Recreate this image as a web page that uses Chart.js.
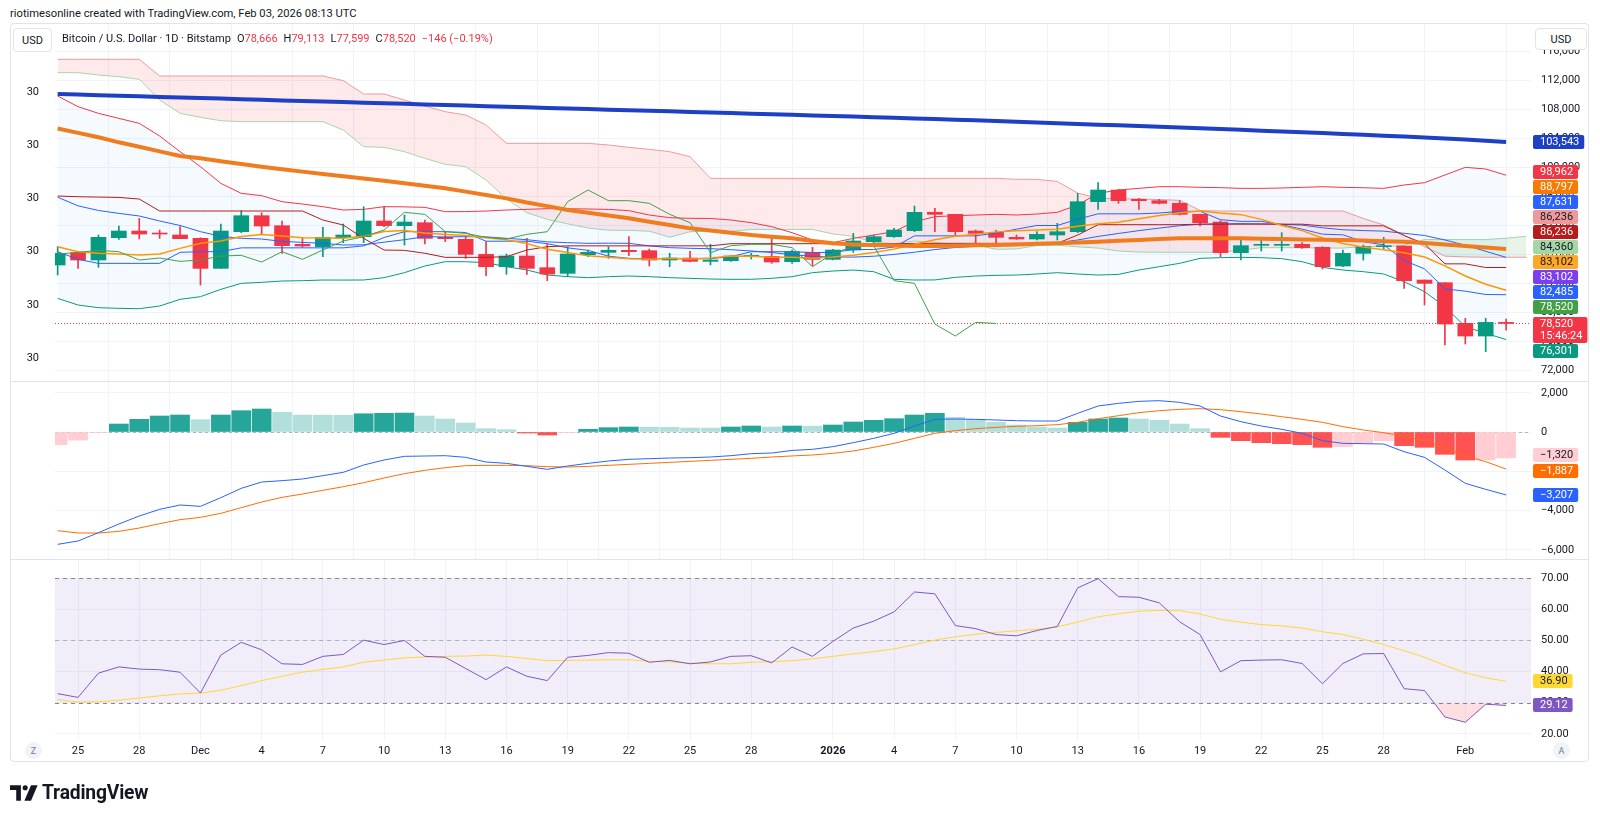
<!DOCTYPE html>
<html>
<head>
<meta charset="utf-8">
<title>BTCUSD 1D</title>
<script src="https://cdn.jsdelivr.net/npm/chart.js@4.4.1/dist/chart.umd.min.js"></script>
<style>
html,body{margin:0;padding:0;background:#fff;}
body{width:1600px;height:817px;position:relative;overflow:hidden;font-family:Roboto,"Liberation Sans",Arial,sans-serif;color:#131722;}
.a{position:absolute;}
#frame{left:10px;top:23px;width:1579px;height:739px;border:1px solid #e0e3eb;border-radius:4px;box-sizing:border-box;}
.sep{left:11px;width:1577px;height:1px;background:#e0e3eb;}
canvas{position:absolute;display:block;}
.usd{border:1px solid #e0e3eb;border-radius:4px;background:#fff;font-size:11px;display:flex;align-items:center;justify-content:center;box-sizing:border-box;}
#legend{left:62px;top:31px;height:16px;line-height:16px;font-size:11px;white-space:nowrap;}
#legend .v{color:#f23645;}
#legend .g{margin-left:6px;}
.circ{width:17px;height:17px;border-radius:50%;background:#f0f3fa;color:#787b86;font-size:9px;display:flex;align-items:center;justify-content:center;}
</style>
</head>
<body>
<div class="a" style="left:10px;top:6px;font-size:11.2px;line-height:16px;white-space:nowrap">riotimesonline created with TradingView.com, Feb 03, 2026 08:13 UTC</div>
<div class="a" id="frame"></div>
<canvas id="cPrice" width="1578" height="358" style="left:10px;top:24px;width:1578px;height:358px"></canvas>
<canvas id="cMacd" width="1578" height="178" style="left:10px;top:382px;width:1578px;height:178px"></canvas>
<canvas id="cRsi" width="1578" height="202" style="left:10px;top:560px;width:1578px;height:202px"></canvas>
<div class="a sep" style="top:381px"></div>
<div class="a sep" style="top:559px"></div>
<div class="a usd" style="left:13px;top:28px;width:39px;height:24px">USD</div>
<div class="a usd" style="left:1535px;top:28px;width:52px;height:22px">USD</div>
<div class="a" id="legend"></div>
<div class="a circ" style="left:25px;top:742px">Z</div>
<div class="a circ" style="left:1553px;top:742px">A</div>
<div class="a" style="left:10px;top:781px;display:flex;align-items:center;gap:4px">
<svg width="28" height="16" viewBox="0 0 36 20"><path d="M14 20H8V6H0V0h14z" fill="#131722"/><circle cx="19.5" cy="3.3" r="3.3" fill="#131722"/><path d="M27 0h8.5L27 20h-8.5z" fill="#131722"/></svg>
<span style="font-size:19.3px;font-weight:700;letter-spacing:-0.2px">TradingView</span></div>

<script>
// ---------------- DATA (daily candles, Nov 24 2025 -> Feb 3 2026, index 0..71) ----------------
const tickIdx    = [1,4,7,10,13,16,19,22,25,28,31,34,38,41,44,47,50,53,56,59,62,65,69];
const tickLabels = ['25','28','Dec','4','7','10','13','16','19','22','25','28','2026','4','7','10','13','16','19','22','25','28','Feb'];

const opens  = [86577,88278,87267,90347,91267,90991,90715,90255,86117,91175,93382,92003,89428,89106,90347,90485,92647,92003,92416,90393,90117,88048,86347,87818,86208,85427,88002,88324,88600,88554,87267,87543,87083,87175,87726,87772,87037,88324,87359,88646,89796,90485,91313,93842,93566,91267,91083,90394,90164,90716,91176,95314,96923,95636,95452,95084,93567,92509,88279,89291,89291,89429,89015,86440,88187,89107,89199,84509,84141,78531,76784,78666];
const highs  = [89106,88416,90715,91957,93012,91405,91865,90347,92232,94072,93796,92647,90347,91773,92232,94623,94623,93474,92784,91175,90577,89796,88094,90255,89428,89106,88646,89106,90485,88784,88186,88462,89428,87910,88186,90255,88646,89014,88738,90945,90715,91635,94715,94393,93566,91405,91405,90716,91176,92325,96464,97935,97015,95774,95636,95452,93613,92693,90394,90118,91038,89659,89107,88647,89337,90394,89199,84509,84141,79221,79221,79113];
const lows   = [85197,86117,86255,90117,90163,90255,90209,83818,86117,91037,90853,88186,89014,87726,89658,89658,91865,89336,89474,89796,87497,85105,85289,85289,84416,84968,87726,87497,87864,86439,86347,86991,86577,87083,87405,86807,86807,86485,87267,88324,89428,90393,91175,91175,90715,89336,89566,90118,90026,90026,91038,94257,95084,94257,94992,93475,91957,87727,87267,88509,88509,88877,86026,86348,87267,88739,83359,81060,75543,75681,74623,77599];
const closes = [88186,87267,90393,91267,90853,90853,90209,86117,91267,93382,91957,89245,89198,90393,90715,92647,92003,92508,90255,90209,88048,86347,87818,86117,85335,88094,88324,88600,88416,87267,87543,87083,87267,87818,87910,86991,88416,87359,88646,89888,90485,91405,93842,93566,91175,90945,90393,90164,90808,91176,95314,96923,95452,95452,95084,93567,92417,88279,89245,89429,89429,88969,86348,88187,89107,89245,84417,84049,78439,76784,78666,78520];

const sma200  = [110170,110085,110010,109925,109850,109765,109690,109605,109530,109450,109370,109285,109210,109130,109050,108965,108890,108810,108730,108645,108570,108490,108410,108330,108250,108165,108090,108010,107930,107850,107770,107690,107610,107530,107450,107365,107290,107210,107130,107050,106970,106885,106800,106710,106620,106530,106440,106340,106240,106145,106040,105940,105845,105740,105640,105545,105440,105330,105225,105110,105000,104890,104770,104655,104530,104410,104290,104160,104030,103895,103720,103543];
const sma100  = [105400,104800,104200,103500,102900,102250,101612,101290,100900,100500,100141,99800,99460,99130,98830,98520,98210,97850,97500,97152,96700,96230,95770,95200,94700,94164,93780,93400,93014,92550,92090,91635,91330,91020,90715,90480,90255,89900,89566,89420,89336,89260,89198,89200,89250,89290,89337,89420,89500,89567,89680,89800,89920,90040,90150,90257,90260,90260,90257,90200,90150,90100,90060,90026,89950,89870,89797,89600,89400,89200,89000,88797];
const sma9    = [89106,88416,88186,88100,87957,88094,88876,89566,89900,90500,90800,90572,90342,90291,90276,90547,91201,91339,90991,90797,90664,90347,90061,89550,88738,88303,87839,87655,87455,87369,87502,87420,87548,87824,87803,87655,87635,87517,87670,87931,88309,88769,89438,90066,90531,90812,91149,91318,91420,91497,91931,92274,92483,92959,93418,93771,94021,93740,93526,92872,92039,91319,90307,89541,89046,88693,88264,87687,86466,85061,83916,83102];
const bbUpper = [109889,108417,107498,106808,106118,104371,102210,100141,97842,96463,96141,95313,94991,94623,94164,94256,94623,94600,94531,93934,93950,94026,94164,94256,94348,94340,94300,94250,94072,93474,93106,93014,93000,92784,92416,91865,91037,90025,89658,90255,90715,91175,92555,93244,93382,93474,93566,93475,93613,93843,94854,96464,96923,97153,97383,97380,97291,97250,97153,97150,97200,97290,97383,97290,97240,97153,97613,97935,98992,100050,99820,98962];
const bbBasis = [95930,94740,94100,93700,93340,92650,92030,91180,90530,90260,90160,89840,89700,89570,89340,89370,89730,90070,90490,90450,90490,90460,90260,90070,89770,89660,89570,89590,89570,89220,88970,88880,88830,88690,88510,88300,88000,87770,87680,87670,87790,88040,88340,88710,89000,89150,89250,89330,89450,89640,90030,90520,90930,91320,91670,92000,92200,92250,92280,92260,92200,92080,91710,91440,91330,91250,90950,90650,90030,89310,88470,87631];
const bbLower = [81979,81059,80691,80600,80554,80922,81841,82209,83222,84048,84186,84370,84416,84508,84500,84510,84830,85520,86439,87037,87030,86899,86347,85887,85197,84968,84830,84968,85060,84970,84830,84738,84646,84600,84610,84740,84968,85520,85750,85887,85657,84600,84508,84520,84876,85060,85152,85198,85336,85520,85336,85198,85280,85888,86348,86808,87497,87589,87635,87590,87451,87038,86256,85888,85658,85336,84279,82899,80830,78071,77152,76301];
const tenkan  = [88416,87360,86807,86807,86807,86807,88324,88416,88415,88945,88945,88945,88945,88945,88945,89220,90370,91175,91175,91175,91060,89864,89864,89864,89520,88945,88600,87796,87497,87450,87450,87450,87450,87727,88416,88416,88416,88301,88301,88715,88715,89060,90600,90600,90600,90600,90991,91520,92026,92026,92900,93636,93636,93636,93750,93980,93980,92831,92601,92601,92141,91520,90831,90739,89797,89360,87199,86049,83290,82969,82509,82485];
const kijun   = [96094,96000,95950,95900,95681,94026,94026,94026,94026,94026,94026,94026,94026,92784,92095,90255,88646,88600,88200,87635,87635,87635,87727,88646,89106,89220,89220,89220,89220,89220,89220,89220,89220,89520,89520,89520,89520,89520,89520,89520,89520,89520,89566,89566,89566,89566,89566,89566,89566,89566,90716,92141,92141,92141,92141,92141,92210,92210,92210,92210,92210,92210,91980,91980,91980,91980,90647,89497,86739,86739,86236,86236];
// leading spans (index 0..72, drawn 25 bars ahead) and lagging span (index 0..46, drawn 25 bars back)
const spanA   = [113107,113107,112785,112556,112188,109337,107498,106946,106486,106348,106348,106348,106348,106348,105199,102900,102808,102210,101290,100463,100141,98302,95700,93800,92876,92255,91680,91379,91354,91244,90417,91175,91221,91221,91486,91486,91486,91486,90865,90520,89738,89508,89888,89688,89405,89348,88750,88796,89255,89313,89083,88910,88508,88359,88335,88335,88335,88335,88624,88968,88968,88968,88911,88911,89118,89118,89290,90083,90083,90083,90083,90279,90543];
const spanB   = [114947,114947,114947,114947,114947,112648,112648,112648,112648,112648,112648,112648,112648,112648,112004,110165,110165,109337,108510,107728,107268,105889,103360,103360,103360,103360,103360,103130,102808,102532,102210,101520,98532,98532,98532,98532,98532,98532,98532,98532,98532,98532,98532,98532,98532,98532,98532,98395,98395,98100,96500,95800,95700,95700,95600,95500,94100,94027,94027,94027,94027,94027,94027,94027,93000,92100,90700,89100,87800,87700,87650,87650,87650];
const chikou  = [88094,88324,88600,88416,87267,87543,87083,87267,87818,87910,86991,88416,87359,88646,89888,90485,91405,93842,93566,91175,90945,90393,90164,90808,91176,95314,96923,95452,95452,95084,93567,92417,88279,89245,89429,89429,88969,86348,88187,89107,89245,84417,84049,78439,76784,78666,78520];
// current (non-displaced) values shown on the price-scale tags
const spanANow = 84360, spanBNow = 86236, maPurpleNow = 83102;

const macd   = [-5724,-5554,-5130,-4688,-4280,-3941,-3720,-3788,-3346,-2871,-2548,-2480,-2395,-2225,-2055,-1682,-1427,-1240,-1223,-1206,-1291,-1529,-1597,-1750,-1903,-1733,-1597,-1478,-1393,-1359,-1325,-1308,-1274,-1206,-1104,-1070,-940,-883,-747,-544,-323,-68,306,645,662,645,611,577,560,560,951,1325,1460,1562,1596,1511,1325,815,526,306,136,-68,-442,-578,-595,-612,-1002,-1291,-1937,-2616,-2922,-3207];
const signal = [-5028,-5147,-5147,-5062,-4893,-4672,-4467,-4349,-4144,-3855,-3568,-3330,-3159,-2973,-2786,-2582,-2344,-2123,-1953,-1818,-1716,-1699,-1699,-1716,-1767,-1784,-1750,-1699,-1648,-1597,-1546,-1495,-1444,-1393,-1342,-1274,-1220,-1172,-1087,-968,-781,-578,-323,-68,68,170,238,289,323,374,492,679,832,985,1087,1155,1189,1138,1036,917,781,645,492,272,102,-34,-204,-459,-832,-1223,-1512,-1887];
const hist   = [-646,-408,-20,407,645,815,866,628,866,1087,1172,1002,866,860,855,930,951,965,815,662,458,170,119,-51,-153,-34,136,221,255,250,240,204,200,255,306,255,306,300,357,510,594,679,866,951,747,645,492,357,255,204,492,662,713,662,594,407,170,-272,-441,-543,-595,-646,-781,-747,-578,-441,-697,-781,-1138,-1427,-1420,-1320];

const rsi    = [32.9,31.7,39.5,41.5,40.8,40.6,39.8,33.1,45.3,49.4,47.0,42.5,42.3,44.9,45.5,50.1,48.7,50.0,44.9,44.6,41.0,37.4,41.5,38.5,37.1,44.6,45.2,46.1,45.9,43.0,43.6,42.5,43.1,44.9,45.1,42.8,47.9,44.9,49.7,54.0,56.2,59.2,65.6,65.0,54.8,53.8,51.9,51.5,53.2,54.5,66.9,69.9,64.1,63.9,62.1,56.0,51.9,39.9,43.5,43.7,43.8,42.6,36.1,42.6,45.7,45.8,34.5,33.9,25.4,23.7,29.5,29.12];
const rsiMA  = [31.0,30.2,30.3,30.8,31.5,32.2,32.8,33.1,34.0,35.5,37.1,38.5,39.8,40.7,41.5,43.0,43.7,44.4,44.7,44.9,45.0,45.3,44.9,44.2,43.5,43.6,43.7,43.8,43.8,43.3,43.1,42.7,42.5,42.5,43.0,43.2,43.5,44.1,44.9,45.7,46.4,47.3,48.7,50.1,51.2,52.0,52.6,53.1,53.6,54.4,55.9,57.6,58.6,59.4,59.7,59.6,58.5,56.8,55.9,55.1,54.7,54.0,52.8,51.9,50.4,48.7,46.7,44.6,42.0,39.6,38.0,36.9];

const priceTicks = [72000,76000,80000,84000,88000,92000,96000,100000,104000,108000,112000,116000];
const macdTicks  = [-6000,-4000,-2000,0,2000];
const rsiTicks   = [20,30,40,50,60,70];
const leftTicks  = [0,1,2,3,4,5];
const leftLabels = ['30','30','30','30','30','30'];
const countdown  = '15:46:24';

// ---------------- LAYOUT / STYLE ----------------
const FF = 'Roboto, "Liberation Sans", Arial, sans-serif';
Chart.defaults.font.family = FF;
Chart.defaults.font.size = 11;
Chart.defaults.color = '#131722';
const GRID = '#f0f3fa';
const X_MIN = -0.13, X_MAX = 72.22;
const PAD_L = 45, AX_R = 57;
const UP = '#089981', DOWN = '#f23645';
const N = closes.length;
const fmtK = v => (v < 0 ? '\u2212' : '') + Math.abs(Math.round(v)).toLocaleString('en-US');
const noPad = s => { s.paddingTop = 0; s.paddingBottom = 0; s.paddingLeft = 0; s.paddingRight = 0; };

// legend
(function(){
  const chg = closes[N-1] - closes[N-2];
  const pct = chg / closes[N-2] * 100;
  const s = v => (v < 0 ? '\u2212' : '+') ;
  document.getElementById('legend').innerHTML =
    'Bitcoin / U.S. Dollar \u00b7 1D \u00b7 Bitstamp' +
    '<span class="g">O<span class="v">' + fmtK(opens[N-1]) + '</span></span>' +
    '<span class="g">H<span class="v">' + fmtK(highs[N-1]) + '</span></span>' +
    '<span class="g">L<span class="v">' + fmtK(lows[N-1]) + '</span></span>' +
    '<span class="g">C<span class="v">' + fmtK(closes[N-1]) + '</span></span>' +
    '<span class="g v">' + s(chg) + Math.abs(chg) + ' (' + s(pct) + Math.abs(pct).toFixed(2) + '%)</span>';
})();

const pts = arr => arr.map((v, i) => ({x: i, y: v}));
const line = (data, color, width, extra) => Object.assign({
  type: 'line', data, borderColor: color, borderWidth: width, pointRadius: 0,
  fill: false, tension: 0, yAxisID: 'y'}, extra || {});

function xAxis(show) {
  return {
    type: 'linear', min: X_MIN, max: X_MAX, offset: false,
    grid: {color: GRID, drawTicks: false},
    border: {display: false},
    afterBuildTicks(s) { s.ticks = tickIdx.map(v => ({value: v})); },
    afterFit(s) { s.height = show ? 22 : 0; noPad(s); },
    ticks: {
      display: show, autoSkip: false, maxRotation: 0, minRotation: 0, padding: 5,
      callback: (v, i) => tickLabels[i],
      font: c => ({family: FF, size: 11, weight: tickLabels[c.index] === '2026' ? 'bold' : 'normal'})
    }
  };
}
function yRight(min, max, ticks, fmt) {
  return {
    position: 'right', min, max,
    afterFit(s) { s.width = AX_R; noPad(s); },
    afterBuildTicks(s) { s.ticks = ticks.map(v => ({value: v})); },
    grid: {color: GRID, drawTicks: false},
    border: {display: false},
    ticks: {padding: 10, autoSkip: false, callback: fmt}
  };
}
function baseOptions(padLeft, scales) {
  return {
    responsive: false, maintainAspectRatio: false, animation: false, devicePixelRatio: 1, events: [],
    layout: {padding: {left: padLeft, right: 0, top: 0, bottom: 0}},
    plugins: {legend: {display: false}, tooltip: {enabled: false}},
    scales
  };
}
function drawTag(ctx, x, yc, lines, bg, fg) {
  ctx.save();
  ctx.font = '11px ' + FF;
  const w = Math.max(...lines.map(t => ctx.measureText(t).width)) + 12;
  const h = lines.length === 1 ? 14 : 26;
  const top = Math.round(yc - h / 2);
  ctx.fillStyle = bg;
  ctx.beginPath();
  if (ctx.roundRect) ctx.roundRect(x, top, w, h, 2); else ctx.rect(x, top, w, h);
  ctx.fill();
  ctx.fillStyle = fg; ctx.textAlign = 'left'; ctx.textBaseline = 'middle';
  lines.forEach((t, k) => ctx.fillText(t, x + 7, top + 7.5 + k * 12));
  ctx.restore();
}
function spread(ys, gap) {
  const out = ys.slice();
  for (let it = 0; it < 60; it++) {
    let moved = false;
    for (let k = 1; k < out.length; k++) {
      const g = out[k] - out[k - 1];
      if (g < gap) { const d = (gap - g) / 2; out[k - 1] -= d; out[k] += d; moved = true; }
    }
    if (!moved) break;
  }
  return out;
}

// ---------------- PRICE PANE ----------------
const candleColors = closes.map((c, i) => c >= opens[i] ? UP : DOWN);
const wickData = lows.map((l, i) => ({x: i, y: [l, highs[i]]}));
const bodyData = opens.map((o, i) => ({x: i, y: [o, closes[i]]}));

const priceTags = [
  {v: sma200[N-1],  bg: '#1e40c4', fg: '#fff'},
  {v: bbUpper[N-1], bg: '#f23645', fg: '#fff'},
  {v: sma100[N-1],  bg: '#f57c00', fg: '#fff'},
  {v: bbBasis[N-1], bg: '#2962ff', fg: '#fff'},
  {v: spanBNow,     bg: '#ef9a9a', fg: '#131722'},
  {v: kijun[N-1],   bg: '#b71c1c', fg: '#fff'},
  {v: spanANow,     bg: '#a5d6a7', fg: '#131722'},
  {v: sma9[N-1],    bg: '#ffa726', fg: '#131722'},
  {v: maPurpleNow,  bg: '#7b3ff0', fg: '#fff'},
  {v: tenkan[N-1],  bg: '#2962ff', fg: '#fff'},
  {v: chikou[chikou.length-1], bg: '#43a047', fg: '#fff'},
  {v: closes[N-1],  bg: '#f23645', fg: '#fff', extra: countdown},
  {v: bbLower[N-1], bg: '#089981', fg: '#fff'}
];
// tag centres on the page (stacked by the price scale to avoid overlap)
const priceTagY = [142, 172, 187, 202, 217, 232, 247, 262, 277, 292, 307, 330, 351];

const pricePlugin = {
  id: 'pricePane',
  beforeDatasetsDraw(chart) {
    const {ctx, chartArea: a, scales: {y}} = chart;
    const py = Math.round(y.getPixelForValue(closes[N-1])) + 0.5;
    ctx.save(); ctx.strokeStyle = DOWN; ctx.lineWidth = 1; ctx.setLineDash([1, 2]);
    ctx.beginPath(); ctx.moveTo(a.left, py); ctx.lineTo(a.right, py); ctx.stroke(); ctx.restore();
  },
  afterDraw(chart) {
    const {ctx, chartArea: a} = chart;
    priceTags.forEach((t, k) => {
      const lines = t.extra ? [fmtK(t.v), t.extra] : [fmtK(t.v)];
      drawTag(ctx, a.right + 2, priceTagY[k] - 24, lines, t.bg, t.fg);
    });
  }
};

new Chart(document.getElementById('cPrice'), {
  type: 'line',
  data: {datasets: [
    line(pts(spanA), '#a5d6a7', 1, {order: 20, fill: {target: 1, above: 'rgba(67,160,71,0.12)', below: 'rgba(242,54,69,0.11)'}}),
    line(pts(spanB), '#ef9a9a', 1, {order: 19}),
    line(pts(bbUpper), '#f23645', 1, {order: 18, fill: {target: 3, above: 'rgba(33,150,243,0.05)', below: 'rgba(33,150,243,0.05)'}}),
    line(pts(bbLower), '#089981', 1, {order: 17}),
    {type: 'bar', data: wickData, backgroundColor: candleColors, barThickness: 1, grouped: false, order: 12, yAxisID: 'y'},
    {type: 'bar', data: bodyData, backgroundColor: candleColors, barThickness: 15, grouped: false, minBarLength: 1, order: 11, yAxisID: 'y'},
    line(pts(bbBasis), '#2962ff', 1, {order: 8}),
    line(pts(tenkan), '#2962ff', 1, {order: 7}),
    line(pts(kijun), '#b71c1c', 1, {order: 6}),
    line(pts(sma9), '#ff9800', 1.5, {order: 5}),
    line(pts(chikou), '#43a047', 1, {order: 4}),
    line(pts(sma100), '#f07c1e', 4, {order: 2}),
    line(pts(sma200), '#1e40c4', 4, {order: 1})
  ]},
  options: baseOptions(0, {
    x: xAxis(false),
    y: yRight(70442, 119821, priceTicks, v => fmtK(v)),
    yl: {
      position: 'left', min: -0.451, max: 6.278,
      afterFit(s) { s.width = PAD_L; noPad(s); },
      afterBuildTicks(s) { s.ticks = leftTicks.map(v => ({value: v})); },
      grid: {display: false}, border: {display: false},
      ticks: {padding: 8, autoSkip: false, callback: (v, i) => leftLabels[i]}
    }
  }),
  plugins: [pricePlugin]
});

// ---------------- MACD PANE ----------------
const histColors = hist.map((h, i) => {
  const p = i > 0 ? hist[i-1] : -Infinity;
  if (h >= 0) return p < h ? '#26a69a' : '#b2dfdb';
  return p < h ? '#ffcdd2' : '#ff5252';
});
const macdTags = [
  {v: hist[N-1], bg: '#ffcdd2', fg: '#131722'},
  {v: signal[N-1], bg: '#ff6d00', fg: '#fff'},
  {v: macd[N-1], bg: '#2962ff', fg: '#fff'}
];
const macdPlugin = {
  id: 'macdPane',
  beforeDatasetsDraw(chart) {
    const {ctx, chartArea: a, scales: {y}} = chart;
    const py = Math.round(y.getPixelForValue(0)) + 0.5;
    ctx.save(); ctx.strokeStyle = 'rgba(120,123,134,0.55)'; ctx.lineWidth = 1; ctx.setLineDash([3, 3]);
    ctx.beginPath(); ctx.moveTo(a.left, py); ctx.lineTo(a.right, py); ctx.stroke(); ctx.restore();
  },
  afterDraw(chart) {
    const {ctx, chartArea: a, scales: {y}} = chart;
    const tags = macdTags.map(t => Object.assign({p: y.getPixelForValue(t.v)}, t)).sort((m, n) => m.p - n.p);
    const ys = spread(tags.map(t => t.p), 16);
    tags.forEach((t, k) => drawTag(ctx, a.right + 2, ys[k], [fmtK(t.v)], t.bg, t.fg));
  }
};
new Chart(document.getElementById('cMacd'), {
  type: 'line',
  data: {datasets: [
    line(pts(macd), '#2962ff', 1, {order: 1}),
    line(pts(signal), '#ff6d00', 1, {order: 2}),
    {type: 'bar', data: pts(hist), backgroundColor: histColors, barThickness: 19, grouped: false, order: 3, yAxisID: 'y'}
  ]},
  options: baseOptions(PAD_L, {
    x: xAxis(false),
    y: yRight(-6522, 2548, macdTicks, v => fmtK(v))
  }),
  plugins: [macdPlugin]
});

// ---------------- RSI PANE ----------------
const rsiTags = [
  {v: rsiMA[N-1], bg: '#fdd835', fg: '#131722'},
  {v: rsi[N-1], bg: '#7e57c2', fg: '#fff'}
];
const rsiPlugin = {
  id: 'rsiPane',
  beforeDatasetsDraw(chart) {
    const {ctx, chartArea: a, scales: {y}} = chart;
    const y70 = y.getPixelForValue(70), y30 = y.getPixelForValue(30), y50 = y.getPixelForValue(50);
    ctx.save();
    ctx.fillStyle = 'rgba(126,87,194,0.1)';
    ctx.fillRect(a.left, y70, a.right - a.left, y30 - y70);
    ctx.lineWidth = 1; ctx.setLineDash([4, 4]);
    [[y70, 'rgba(120,123,134,0.9)'], [y50, 'rgba(120,123,134,0.5)'], [y30, 'rgba(120,123,134,0.9)']].forEach(([py, c]) => {
      ctx.strokeStyle = c; ctx.beginPath(); ctx.moveTo(a.left, Math.round(py) + 0.5); ctx.lineTo(a.right, Math.round(py) + 0.5); ctx.stroke();
    });
    ctx.restore();
  },
  afterDraw(chart) {
    const {ctx, chartArea: a, scales: {y}} = chart;
    const tags = rsiTags.map(t => Object.assign({p: y.getPixelForValue(t.v)}, t)).sort((m, n) => m.p - n.p);
    const ys = spread(tags.map(t => t.p), 16);
    tags.forEach((t, k) => drawTag(ctx, a.right + 2, ys[k], [t.v.toFixed(2)], t.bg, t.fg));
  }
};
new Chart(document.getElementById('cRsi'), {
  type: 'line',
  data: {datasets: [
    line(pts(rsi), '#7e57c2', 1, {order: 1, fill: {target: {value: 30}, above: 'rgba(0,0,0,0)', below: 'rgba(242,54,69,0.16)'}}),
    line(pts(rsiMA), '#fdd835', 1, {order: 2})
  ]},
  options: baseOptions(PAD_L, {
    x: xAxis(true),
    y: yRight(18.0, 75.88, rsiTicks, v => v.toFixed(2))
  }),
  plugins: [rsiPlugin]
});
</script>
</body>
</html>
